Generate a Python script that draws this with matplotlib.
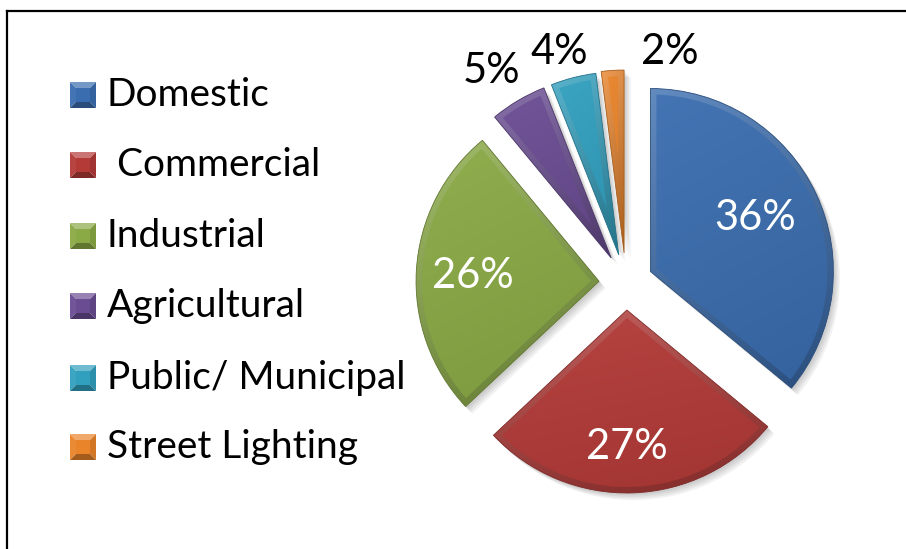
import numpy as np
import matplotlib.pyplot as plt
from matplotlib.patches import Polygon, Wedge
from matplotlib.colors import to_rgb

# ---- data --------------------------------------------------------------------
categories = ["Domestic", " Commercial", "Industrial", "Agricultural",
              "Public/ Municipal", "Street Lighting"]
shares = [36, 27, 26, 5, 4, 2]

# ---- style -------------------------------------------------------------------
colors = ["#3A6DAF", "#B33A37", "#8AAA45", "#6A4C93", "#31A0BF", "#EA842A"]
label_colors = ["white", "white", "white", "black", "black", "black"]
explode = [27, 27, 27, 29, 29, 30]
label_dist = [0.645, 0.75, 0.69, 1.21, 1.155, 1.127]
label_nudge = [2.0, -1.8, 1.3, 2.0, 2.0, -16.5]

W, H = 906, 549
FONT = "Lato"


def mix(c, other, a):
    c = np.array(to_rgb(c))
    o = np.array(to_rgb(other))
    return tuple(c * (1 - a) + o * a)


def gradient_fill(ax, clip, bbox, top, bottom, z):
    """Diagonal gradient (light top-left -> dark bottom-right) clipped to a patch."""
    x0, y0, x1, y1 = bbox
    n = 64
    yy, xx = np.mgrid[0:1:n * 1j, 0:1:n * 1j]
    t = np.clip(0.75 * yy + 0.25 * xx, 0, 1)
    top = np.array(top)
    bottom = np.array(bottom)
    img = top[None, None, :] * (1 - t[..., None]) + bottom[None, None, :] * t[..., None]
    im = ax.imshow(img, extent=(x0, x1, y0, y1), origin="upper",
                   interpolation="bilinear", zorder=z, aspect="auto")
    im.set_clip_path(clip)


def inset_polygon(center, r, th1, th2, t):
    """Wedge shrunk inward by distance t (flat face of the bevel)."""
    cx, cy = center
    half = np.radians(th2 - th1) / 2
    mid = np.radians(th1) + half
    shift = t / np.sin(half)
    rin = r - t
    if shift + 2 > rin:
        return None
    ax_, ay_ = cx + shift * np.cos(mid), cy + shift * np.sin(mid)
    phi = np.arcsin(min(t / rin, 1.0))
    a = np.linspace(np.radians(th1) + phi, np.radians(th2) - phi, 80)
    pts = [(ax_, ay_)] + [(cx + rin * np.cos(v), cy + rin * np.sin(v)) for v in a]
    return pts


fig = plt.figure(figsize=(W / 100, H / 100), dpi=100)
ax = fig.add_axes([0, 0, 1, 1])

radius = 183
wedges, _ = ax.pie(shares, radius=radius, center=(626, H - 283),
                   startangle=90, counterclock=False, explode=explode,
                   colors=colors, frame=True)

bevel = 6
for w, col in zip(wedges, colors):
    cx, cy = w.center
    # soft drop shadow
    for off in [2, 3.5, 5, 6.5]:
        sh = Wedge((cx + off, cy - off * 1.1), w.r, w.theta1, w.theta2,
                   facecolor="black", edgecolor="none", alpha=0.05, zorder=1)
        ax.add_patch(sh)
    w.set_facecolor("none")
    w.set_edgecolor(mix(col, "black", 0.3))
    w.set_linewidth(0.6)
    w.set_zorder(5)
    ext = w.get_path().get_extents(w.get_patch_transform())
    bbox = (ext.x0, ext.y0, ext.x1, ext.y1)
    gradient_fill(ax, w, bbox, mix(col, "white", 0.2), mix(col, "black", 0.28), 2)

    pts = inset_polygon(w.center, w.r, w.theta1, w.theta2, bevel)
    if pts is not None:
        face = Polygon(pts, closed=True, facecolor="none", edgecolor="none", zorder=3)
        ax.add_patch(face)
        gradient_fill(ax, face, bbox, mix(col, "white", 0.05), mix(col, "black", 0.1), 3)

# percentage labels
for w, val, tc, d, nud in zip(wedges, shares, label_colors, label_dist, label_nudge):
    ang = np.radians((w.theta1 + w.theta2) / 2 + nud)
    cx, cy = w.center
    ax.text(cx + d * w.r * np.cos(ang), cy + d * w.r * np.sin(ang), f"{val}%",
            ha="center", va="center", fontsize=30, color=tc, family=FONT,
            zorder=6)

# legend with bevelled square keys
row_y = [95, 165, 236, 306, 378, 447]
kx0, ks, ki = 70, 26, 6
for name, col, yc in zip(categories, colors, row_y):
    y = H - yc
    x0, x1 = kx0, kx0 + ks
    y0, y1 = y - ks / 2, y + ks / 2
    ix0, ix1, iy0, iy1 = x0 + ki, x1 - ki, y0 + ki, y1 - ki
    faces = [
        ([(x0, y1), (x1, y1), (ix1, iy1), (ix0, iy1)], mix(col, "white", 0.3)),
        ([(x0, y0), (x0, y1), (ix0, iy1), (ix0, iy0)], mix(col, "white", 0.05)),
        ([(x1, y0), (x1, y1), (ix1, iy1), (ix1, iy0)], mix(col, "black", 0.1)),
        ([(x0, y0), (x1, y0), (ix1, iy0), (ix0, iy0)], mix(col, "black", 0.3)),
        ([(ix0, iy0), (ix1, iy0), (ix1, iy1), (ix0, iy1)], to_rgb(col)),
    ]
    for pts, fc in faces:
        ax.add_patch(Polygon(pts, closed=True, facecolor=fc, edgecolor="none", zorder=4))
    ax.text(107, y, name, ha="left", va="center", fontsize=28,
            family=FONT, color="black", zorder=6)

# chart frame (left and top edges)
ax.plot([7, 7], [0, H - 11], color="black", lw=1.6, zorder=7, solid_capstyle="projecting")
ax.plot([7, W], [H - 11, H - 11], color="black", lw=1.6, zorder=7)

ax.set_xlim(0, W)
ax.set_ylim(0, H)
ax.set_aspect("auto")
ax.axis("off")

fig.savefig("out.png", dpi=100, facecolor="white")
